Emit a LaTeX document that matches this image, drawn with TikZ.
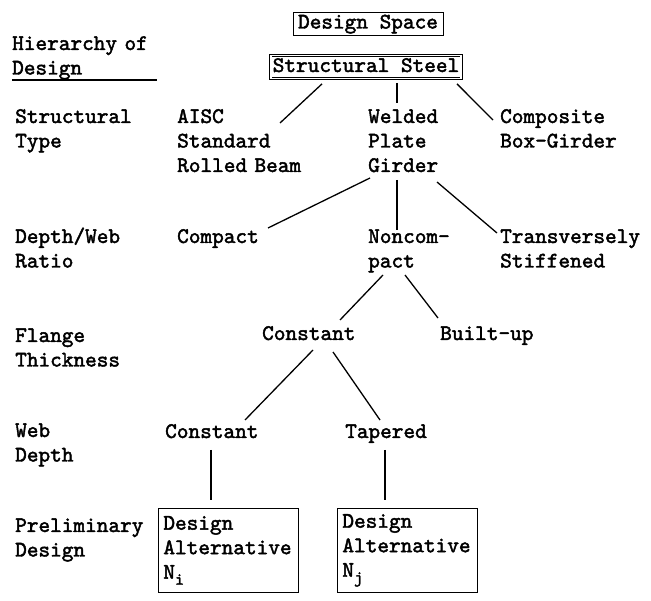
\documentclass[tikz,border=0pt]{standalone}
\usepackage{fontspec}
\usepackage{tikz}
\usetikzlibrary{positioning}
\newfontfamily\typer[Extension=.otf, FakeBold=2]{lmmono10-regular}
\newcommand{\typewriter}{\typer\fontsize{22.2}{24.5}\selectfont}
\newcommand{\lowidx}[1]{\raisebox{-6pt}{\fontsize{17}{17}\selectfont #1}}
\tikzstyle{choice}=[anchor=base west, inner sep=0pt, align=left, text width=160pt, font=\typewriter]
\tikzstyle{headbox}=[draw, thick, font=\typewriter, inner xsep=5pt, inner ysep=2.5pt, text height=14pt, text depth=4pt]
\tikzstyle{steelbox}=[headbox, double, double distance=1.5pt, line width=0.8pt, inner xsep=2pt]
\tikzstyle{altbox}=[draw, thick, align=left, anchor=north west, font=\typewriter, text width=130pt, minimum height=84pt, inner xsep=5pt]
\tikzstyle{branch}=[draw, line width=1.3pt]

\begin{document}
\begin{tikzpicture}[x=1pt, y=-1pt]
    \useasboundingbox (0,0) rectangle (651,601);

    % levels of the hierarchy
    \node[choice] (hier)   at (12,50)  {Hierarchy of\\Design};
    \node[choice] (stype)  at (15,123) {Structural\\Type};
    \node[choice] (ratio)  at (15,243) {Depth/Web\\Ratio};
    \node[choice] (flange) at (15,342) {Flange\\Thickness};
    \node[choice] (webd)   at (15,437) {Web\\Depth};
    \node[choice] (prelim) at (15,532) {Preliminary\\Design};
    \draw[line width=1.1pt] ([shift={(0,30)}]hier.base west) -- ++(145,0);

    % the tree
    \node[headbox]  (space)      at (368,23.5) {Design Space};
    \node[steelbox] (steel)      at (366,67)   {Structural Steel};
    \node[choice]   (aisc)       at (177,123)  {AISC\\Standard\\Rolled Beam};
    \node[choice]   (welded)     at (368,123)  {Welded\\Plate\\Girder};
    \node[choice]   (composite)  at (500,123)  {Composite\\Box-Girder};
    \node[choice]   (compact)    at (177,243)  {Compact};
    \node[choice]   (noncompact) at (368,243)  {Noncom-\\pact};
    \node[choice]   (transverse) at (500,243)  {Transversely\\Stiffened};
    \node[choice]   (flconst)    at (262,340)  {Constant};
    \node[choice]   (builtup)    at (440,340)  {Built-up};
    \node[choice]   (webconst)   at (165,438)  {Constant};
    \node[choice]   (tapered)    at (345,438)  {Tapered};
    \node[altbox]   (alti)       at (158,508)  {Design\\Alternative\\N\lowidx{i}};
    \node[altbox]   (altj)       at (337,508)  {Design\\Alternative\\N\lowidx{j}};

    \draw[branch] ([shift={(-44,5)}]steel.south) -- ([shift={(103,0)}]aisc.base west);
    \draw[branch] ([shift={(31,4)}]steel.south)  -- ([shift={(29,-20)}]welded.base west);
    \draw[branch] ([shift={(91,5)}]steel.south)  -- ([shift={(-7,-3)}]composite.base west);
    \draw[branch] ([shift={(2,55)}]welded.base west)  -- ([shift={(91,-15)}]compact.base west);
    \draw[branch] ([shift={(29,57)}]welded.base west) -- ([shift={(29,-13)}]noncompact.base west);
    \draw[branch] ([shift={(69,59)}]welded.base west) -- ([shift={(-3,-10)}]transverse.base west);
    \draw[branch] ([shift={(15,32)}]noncompact.base west) -- ([shift={(78,-20)}]flconst.base west);
    \draw[branch] ([shift={(37,32)}]noncompact.base west) -- ([shift={(-2,-22)}]builtup.base west);
    \draw[branch] ([shift={(51,10)}]flconst.base west) -- ([shift={(80,-18)}]webconst.base west);
    \draw[branch] ([shift={(71,12)}]flconst.base west) -- ([shift={(35,-18)}]tapered.base west);
    \draw[branch] ([shift={(46,12)}]webconst.base west) -- ([shift={(53,-8)}]alti.north west);
    \draw[branch] ([shift={(40,12)}]tapered.base west)  -- ([shift={(48,-8)}]altj.north west);
\end{tikzpicture}
\end{document}
